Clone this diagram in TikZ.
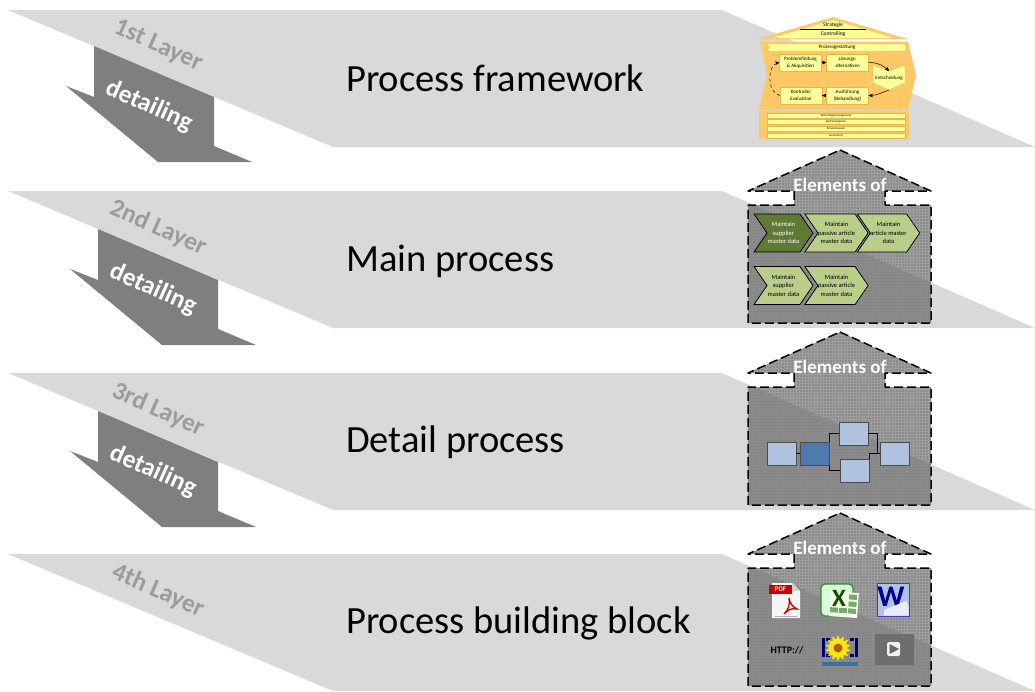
\documentclass[tikz,border=0pt]{standalone}
\usepackage{fontspec}
\setmainfont{Carlito}
\usepackage{xcolor}
\usetikzlibrary{arrows,patterns,shapes.symbols,shapes.geometric}

\definecolor{layergray}{HTML}{D9D9D9}
\definecolor{arrowgray}{HTML}{7F7F7F}
\definecolor{layerlabel}{HTML}{9C9C9C}
\definecolor{frameorange}{HTML}{FFC866}
\definecolor{frameyellow}{HTML}{FFFF99}
\definecolor{frameedge}{HTML}{E0B850}
\definecolor{chevlight}{HTML}{B9CE88}
\definecolor{chevdark}{HTML}{5F7A32}
\definecolor{boxlight}{HTML}{AFC3DE}
\definecolor{boxdark}{HTML}{4F7AAE}

\pgfdeclarepatternformonly{finedots}{\pgfqpoint{-1pt}{-1pt}}{\pgfqpoint{1pt}{1pt}}{\pgfqpoint{3pt}{3pt}}
{\pgfpathrectangle{\pgfqpoint{-.7pt}{-.7pt}}{\pgfqpoint{1.4pt}{1.4pt}}\pgfusepath{fill}}

\begin{document}
\begin{tikzpicture}[x=1pt,y=-1pt,>=stealth',
  layer/.style={fill=layergray,draw=none},
  down arrow/.style={fill=arrowgray,draw=none},
  layer text/.style={font=\fontsize{25.5}{27}\selectfont\bfseries,text=layerlabel,rotate=-24,inner sep=0pt},
  detail text/.style={font=\fontsize{25.5}{27}\selectfont\bfseries,text=white,rotate=-24,inner sep=0pt},
  main text/.style={font=\fontsize{38.5}{41}\selectfont,anchor=west,inner sep=0pt},
  house line/.style={draw=black,line width=1.5pt,dash pattern=on 9pt off 4pt,line join=round},
  chev/.style={shape=signal,signal from=west,signal to=east,signal pointer angle=111,
    minimum width=59pt,minimum height=38pt,inner sep=0pt,draw=black,line width=.8pt,
    font=\fontsize{6.5}{8.5}\selectfont,align=center},
  flow box/.style={rectangle,fill=boxlight,draw=black!70,line width=.8pt,minimum width=29pt,minimum height=23pt,inner sep=0pt},
  frame box/.style={rectangle,fill=frameyellow,draw=frameedge,line width=.4pt,minimum width=42pt,minimum height=17pt,
    inner sep=0pt,font=\fontsize{5}{7}\selectfont,align=center},
  frame band/.style={rectangle,fill=frameyellow,draw=frameedge,line width=.4pt,minimum width=138pt,minimum height=5.5pt,
    inner sep=0pt,font=\fontsize{3}{4}\selectfont}]

  \useasboundingbox (0,0) rectangle (1035,691);

  % layers
  \fill[layer] (8,10) -- (722,10) -- (1035,147) -- (333,147) -- cycle;
  \fill[layer] (8,191) -- (722,191) -- (1035,328) -- (333,328) -- cycle;
  \fill[layer] (8,373) -- (722,373) -- (1035,510) -- (333,510) -- cycle;
  \fill[layer] (8,554) -- (722,554) -- (1035,691) -- (333,691) -- cycle;

  % arrows
  \foreach \ax/\ay in {0/0,4/183,4/365}
    \fill[down arrow,shift={(\ax,\ay)}] (94,46) -- (214,97) -- (214,146) -- (252,162)
      -- (158,162) -- (66,86) -- (94,97) -- cycle;

  \node[layer text] (firstlayer) at (158,46) {1st Layer};
  \node[layer text] (secondlayer) at (158,228) {2nd Layer};
  \node[layer text] (thirdlayer) at (158,410) {3rd Layer};
  \node[layer text] (fourthlayer) at (158,591) {4th Layer};

  \node[detail text] (detailone) at (149,106) {detailing};
  \node[detail text] (detailtwo) at (153,289) {detailing};
  \node[detail text] (detailthree) at (153,471) {detailing};

  \node[main text] (framework) at (346,78.5) {Process framework};
  \node[main text] (mainproc) at (346,261) {Main process};
  \node[main text] (detailproc) at (346,442) {Detail process};
  \node[main text] (buildblock) at (346,623.5) {Process building block};

  % houses
  \foreach \hy in {0,182,363} {
    \begin{scope}[shift={(0,\hy)}]
      \fill[black,fill opacity=.38] (840,150) -- (931,191) -- (885,191) -- (885,205) -- (931,205) -- (931,323)
        -- (748,323) -- (748,205) -- (794,205) -- (794,191) -- (748,191) -- cycle;
      \fill[pattern=finedots,pattern color=black!45] (840,150) -- (931,191) -- (885,191) -- (885,205) -- (931,205) -- (931,323)
        -- (748,323) -- (748,205) -- (794,205) -- (794,191) -- (748,191) -- cycle;
      \draw[house line] (840,150) -- (931,191) -- (885,191) -- (885,205) -- (931,205) -- (931,323)
        -- (748,323) -- (748,205) -- (794,205) -- (794,191) -- (748,191) -- cycle;
      \node[font=\fontsize{19}{21}\selectfont\bfseries,text=white,inner sep=0pt] (elements\hy) at (840,185) {Elements of};
    \end{scope}
  }

  % framework house
  \fill[frameorange] (833,17) -- (908,39) -- (758,39) -- cycle;
  \fill[frameyellow] (833,20) -- (894,38) -- (772,38) -- cycle;
  \draw[black,line width=.7pt] (800,29) -- (866,29);
  \node[font=\fontsize{5.5}{6}\selectfont,inner sep=0pt] (strategie) at (833,25.5) {Strategie};
  \node[font=\fontsize{5.5}{6}\selectfont,inner sep=0pt] (controlling) at (833,34) {Controlling};
  \fill[frameorange] (760,41.5) -- (908,41.5) -- (916,75) -- (908,110) -- (759,110) -- (767,75) -- cycle;
  \fill[frameorange] (759,111) rectangle (909,139);
  \node[shape=signal,signal from=west,signal to=east,signal pointer angle=120,fill=frameyellow,draw=frameedge,line width=.4pt,
    minimum width=140pt,minimum height=7pt,inner sep=0pt,font=\fontsize{5}{5}\selectfont] (gestaltung) at (837,47.5) {Prozessgestaltung};
  \node[frame box] (problem) at (800.5,62.5) {Problemfindung\\\& Akquisition};
  \node[frame box] (loesung) at (847.5,62.5) {Lösungs-\\alternativen};
  \node[frame box] (kontrolle) at (801,95.5) {Kontrolle/\\Evaluation};
  \node[frame box] (ausfuehrung) at (847.5,95.5) {Ausführung\\(Behandlung)};
  \fill[frameyellow,draw=frameedge,line width=.4pt] (873,65) -- (889,71) -- (905,65) -- (905,83) -- (889,90) -- (873,83) -- cycle;
  \node[font=\fontsize{5}{6}\selectfont,inner sep=0pt] (entscheidung) at (889,78.5) {Entscheidung};
  \coordinate (entschtop) at (889,71);
  \coordinate (entschbot) at (889,90);
  \draw[->,line width=.5pt] (problem) -- (loesung);
  \draw[->,line width=.5pt] (loesung) to[out=0,in=135] (entschtop);
  \draw[->,line width=.5pt] (entschbot) to[out=200,in=0] (ausfuehrung);
  \draw[->,line width=.5pt] (ausfuehrung) -- (kontrolle);
  \draw[->,dashed,line width=.5pt] (kontrolle.west) to[out=170,in=190] (problem.west);
  \node[frame band] (bandone) at (836,115.7) {Technologiemanagement};
  \node[frame band] (bandtwo) at (836,121.7) {Rechenregionen};
  \node[frame band] (bandthree) at (836,128.5) {Personalwesen};
  \node[frame band] (bandfour) at (836,135.5) {Ausstellung};

  % main process chevrons
  \node[chev,fill=chevdark,text=white] (mainone) at (783.5,233) {Maintain\\supplier\\master data};
  \node[chev,fill=chevlight] (maintwo) at (836.5,233) {Maintain\\passive article\\master data};
  \node[chev,fill=chevlight] (mainthree) at (888.5,233) {Maintain\\article master\\data};
  \node[chev,fill=chevlight] (mainfour) at (783.5,285.5) {Maintain\\supplier\\master data};
  \node[chev,fill=chevlight] (mainfive) at (836.5,285.5) {Maintain\\passive article\\master data};

  % detail process boxes
  \node[flow box] (boxa) at (781.5,453.5) {};
  \node[flow box,fill=boxdark] (boxb) at (814.5,453.5) {};
  \node[flow box] (boxc) at (853.5,433.5) {};
  \node[flow box] (boxd) at (854.5,470.5) {};
  \node[flow box] (boxe) at (894.5,453.5) {};
  \coordinate (boxjoin) at (877,453.5);
  \draw[black,line width=.8pt] (boxa) -- (boxb);
  \draw[black,line width=.8pt] (boxc.west) -| (boxb.north east);
  \draw[black,line width=.8pt] (boxd.west) -| (boxb.south east);
  \draw[black,line width=.8pt] (boxc.east) -| (boxjoin);
  \draw[black,line width=.8pt] (boxd.north east) |- (boxe.west);

  % building block icons
  \fill[white!92!gray] (772,583) -- (792,583) -- (800,591) -- (800,618) -- (772,618) -- cycle;
  \fill[gray!35] (792,583) -- (800,591) -- (792,591) -- cycle;
  \node[rectangle,fill=red!80!black,minimum width=23pt,minimum height=9pt,inner sep=0pt,text=white,
    font=\fontsize{7}{8}\selectfont\bfseries] (pdficon) at (780.5,589.5) {PDF};
  \draw[red!80!black,line width=1.3pt] (784,614) .. controls (789,609) and (790,604) .. (789,598)
    .. controls (790,604) and (793,607) .. (797,609) .. controls (793,608) and (788,609) .. (784,614);
  \draw[gray!60,line width=.5pt] (775,616) -- (797,616);

  \fill[white!85!green,draw=green!50!black!85,line width=1.2pt,rounded corners=4pt] (821,584) rectangle (853,616);
  \fill[white!90!yellow,rotate around={-4:(843,604)}] (830,592) rectangle (858,617);
  \foreach \cy in {594,601,608}
    \fill[green!40!black!55,rotate around={-4:(843,604)}] (848.5,\cy) rectangle ++(8,5);
  \foreach \cx in {830.5,839.5}
    \fill[green!40!black!55,rotate around={-4:(843,604)}] (\cx,608) rectangle ++(8,5);
  \node[font=\fontsize{25}{25}\selectfont\bfseries,text=green!35!black,inner sep=0pt] (excelicon) at (839,598) {X};

  \fill[boxlight,draw=blue!50!gray,line width=.8pt] (877,583) rectangle (909,616);
  \node[font=\fontsize{30}{30}\selectfont\bfseries,text=blue!60!black,inner sep=0pt] (wordicon) at (891,597) {W};
  \fill[white!92!blue] (884,610) -- (906,601) -- (908.5,606) -- (908.5,615.5) -- (884,615.5) -- cycle;

  \node[font=\fontsize{10}{12}\selectfont\bfseries,inner sep=0pt] (httpicon) at (787,650) {HTTP://};

  \fill[blue!45!black] (822,638) rectangle (825,657);
  \fill[blue!45!black] (826,638) rectangle (830,641);
  \fill[blue!45!black] (826,654) rectangle (830,657);
  \fill[blue!45!black] (855,638) rectangle (858,657);
  \fill[blue!45!black] (850,638) rectangle (854,641);
  \fill[blue!45!black] (850,654) rectangle (854,657);
  \fill[cyan!60!blue!75!black] (822,662) rectangle (858,666);
  \node[star,star points=14,star point ratio=1.5,fill=yellow!90!orange,minimum size=26pt,inner sep=0pt] (sunicon) at (838,648) {};
  \fill[orange!70!black] (sunicon.center) circle (4.5);

  \fill[black!57] (875,634) rectangle (914,665);
  \node[rectangle,rounded corners=1.5pt,fill=white!88!gray,minimum width=13pt,minimum height=14pt,inner sep=0pt] (playicon) at (893.5,649) {};
  \fill[black!60] (889.5,644) -- (899,649) -- (889.5,654) -- cycle;
\end{tikzpicture}
\end{document}
